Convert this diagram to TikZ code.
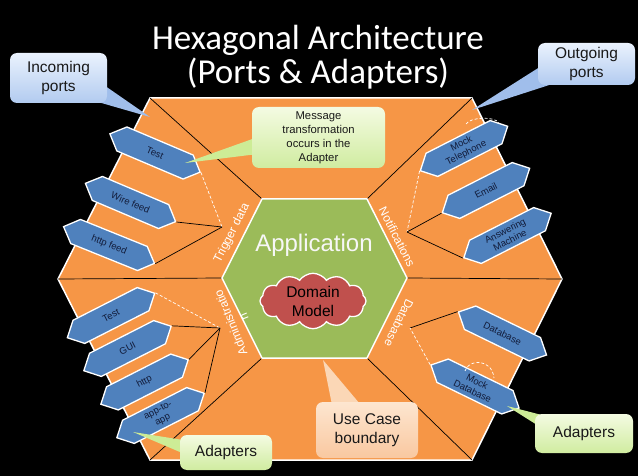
\documentclass[tikz,border=0pt]{standalone}
\usepackage{fontspec}
\setmainfont{Liberation Sans}
\newfontfamily\titlefont{Carlito}
\usetikzlibrary{shapes.geometric,shapes.symbols,calc}
\pgfdeclarelayer{callouts}
\pgfsetlayers{main,callouts}
\definecolor{hexorange}{RGB}{246,150,70}
\definecolor{appgreen}{RGB}{155,187,89}
\definecolor{portblue}{RGB}{79,129,189}
\definecolor{cloudred}{RGB}{192,80,77}
\definecolor{adtext}{RGB}{18,28,58}
\definecolor{calltext}{RGB}{25,25,25}
\definecolor{bluetop}{RGB}{234,242,253}
\definecolor{bluebot}{RGB}{178,203,240}
\definecolor{bluemid}{RGB}{160,190,235}
\definecolor{greentop}{RGB}{244,251,226}
\definecolor{greenbot}{RGB}{208,236,160}
\definecolor{greenmid}{RGB}{205,236,150}
\definecolor{peachtop}{RGB}{253,230,208}
\definecolor{peachbot}{RGB}{249,200,160}
\definecolor{peachmid}{RGB}{251,215,182}
\begin{document}
\begin{tikzpicture}[x=1pt,y=-1pt,
  adapter/.style={signal, signal to=east and west, signal pointer angle=90,
    fill=portblue, draw=white, line width=1.3pt, minimum width=98pt,
    minimum height=26pt, inner sep=1pt, text=adtext, align=center,
    font=\fontsize{9.5}{10.5}\selectfont},
  edgelabel/.style={text=white, inner sep=0pt, align=center,
    font=\fontsize{12}{14}\selectfont},
  wire/.style={black, line width=0.7pt},
  dwire/.style={white, line width=0.7pt, dash pattern=on 3pt off 2pt},
  callbox/.style={rounded corners=7pt, inner sep=2pt, align=center,
    text=calltext, draw=none},
  bluebox/.style={callbox, top color=bluetop, bottom color=bluebot,
    font=\fontsize{15.5}{19}\selectfont},
  greenbox/.style={callbox, top color=greentop, bottom color=greenbot},
  peachbox/.style={callbox, top color=peachtop, bottom color=peachbot,
    font=\fontsize{15.5}{19}\selectfont},
  titlestyle/.style={text=white, inner sep=0pt,
    font=\titlefont\fontsize{35}{40}\selectfont}]
\useasboundingbox (0,0) rectangle (638,476);
\fill[black] (0,0) rectangle (638,476);

% title
\node[titlestyle, anchor=base] (t1) at (318,50) {Hexagonal Architecture};
\node[titlestyle, anchor=base] (t2) at (318,84) {(Ports \& Adapters)};

% hexagons
\coordinate (o1) at (150,98);
\coordinate (o2) at (472,98);
\coordinate (o3) at (562,279);
\coordinate (o4) at (472,460);
\coordinate (o5) at (150,460);
\coordinate (o6) at (58,279);
\coordinate (i1) at (262,199);
\coordinate (i2) at (367,199);
\coordinate (i3) at (407,278);
\coordinate (i4) at (367,358);
\coordinate (i5) at (262,358);
\coordinate (i6) at (222,278);
\draw[white, line width=1.5pt, fill=hexorange]
  (o1) -- (o2) -- (o3) -- (o4) -- (o5) -- (o6) -- cycle;
\foreach \k in {1,...,6} \draw[wire] (o\k) -- (i\k);
\draw[white, line width=1.5pt, fill=appgreen]
  (i1) -- (i2) -- (i3) -- (i4) -- (i5) -- (i6) -- cycle;

\node[text=white!94!gray, inner sep=0pt, font=\fontsize{24}{28}\selectfont]
  (app) at (314,245) {Application};
\node[cloud, cloud puffs=12, cloud puff arc=110, aspect=2.4, fill=cloudred,
  draw=white, line width=1.3pt, minimum width=106pt, minimum height=46pt,
  inner sep=0pt, align=center, text=black, font=\fontsize{15.5}{19}\selectfont]
  (dm) at (313,301) {Domain\\Model};

% port labels
\node[edgelabel, rotate=63] (lTrig) at (232,233) {Trigger data};
\node[edgelabel, rotate=-63] (lNotif) at (397,237) {Notifications};
\node[edgelabel, rotate=-116] (lDb) at (399,323) {Database};
\node[edgelabel, rotate=112] (lAdm) at (237,320) {Administratio\\n};

% port junctions
\coordinate (p1) at (222,227);
\coordinate (p2) at (407,232);
\coordinate (p3) at (220,328);
\coordinate (p4) at (410,328);

% adapters: trigger data
\node[adapter, rotate=-23] (tTest) at (155,153) {Test};
\node[adapter, rotate=-23] (tWire) at (130.5,202.5) {Wire feed};
\node[adapter, rotate=-22] (tHttp) at (109,245) {http feed};
\draw[dwire] (tTest.east) -- (p1);
\draw[wire] (tWire.east) -- (p1);
\draw[wire] (tHttp.east) -- (p1);

% adapters: notifications
\node[adapter, rotate=27] (nMock) at (464,148.5) {Mock\\Telephone};
\node[adapter, rotate=27] (nEmail) at (486,190.5) {Email};
\node[adapter, rotate=27] (nAns) at (507.5,235.5) {Answering\\Machine};
\draw[dwire] (nMock.west) -- (p2);
\draw[wire] (nEmail.west) -- (p2);
\draw[wire] (nAns.west) -- (p2);
\draw[dwire] (466,124) .. controls (470,117) and (495,116) .. (499,123);

% adapters: administration
\node[adapter, rotate=27] (aTest) at (111,315.5) {Test};
\node[adapter, rotate=27] (aGui) at (127.5,348.5) {GUI};
\node[adapter, rotate=27] (aHttp) at (144.5,382) {http};
\node[adapter, rotate=27] (aApp) at (160.5,415.5) {app-to-\\app};
\draw[dwire] (aTest.east) -- (p3);
\draw[wire] (aGui.east) -- (p3);
\draw[wire] (aHttp.east) -- (p3);
\draw[wire] (aApp.east) -- (p3);

% adapters: database
\node[adapter, rotate=-26] (dDb) at (502.5,333.5) {Database};
\node[adapter, rotate=-26] (dMock) at (475,386.5) {Mock\\Database};
\draw[wire] (dDb.west) -- (p4);
\draw[dwire] (dMock.west) -- (p4);
\draw[dwire] (465,371) .. controls (468,359) and (492,358) .. (494,378);

% callouts
\begin{pgfonlayer}{callouts}
\node[bluebox, minimum width=97pt, minimum height=50pt] (inc) at (58.5,78) {Incoming\\ports};
\node[bluebox, minimum width=97pt, minimum height=42pt] (outg) at (586.5,64) {Outgoing\\ports};
\node[greenbox, minimum width=133pt, minimum height=61pt,
  font=\fontsize{11.3}{14}\selectfont] (msg) at (318.5,137.5)
  {Message\\transformation\\occurs in the\\Adapter};
\node[peachbox, minimum width=102pt, minimum height=56pt] (ucb) at (367,430) {Use Case\\boundary};
\node[greenbox, minimum width=92pt, minimum height=35pt,
  font=\fontsize{15.5}{19}\selectfont] (adl) at (226,452.5) {Adapters};
\node[greenbox, minimum width=98pt, minimum height=39pt,
  font=\fontsize{15.5}{19}\selectfont] (adr) at (584,433.5) {Adapters};
\end{pgfonlayer}

\coordinate (incTip) at (150,117);
\coordinate (outTip) at (472,110);
\coordinate (msgTip) at (185,163);
\coordinate (ucbTip) at (323,360);
\coordinate (adlTip) at (133,432);
\coordinate (adrTip) at (507,406);
\fill[bluemid] ($(inc.east)+(-2,8)$) -- (incTip) -- ($(inc.south east)+(-12,-2)$) -- cycle;
\fill[bluemid] ($(outg.west)+(2,3)$) -- (outTip) -- ($(outg.south west)+(17,-2)$) -- cycle;
\fill[greenmid] ($(msg.west)+(2,1)$) -- (msgTip) -- ($(msg.west)+(2,17)$) -- cycle;
\fill[peachmid] ($(ucb.north west)+(16,2)$) -- (ucbTip) -- ($(ucb.north west)+(44,2)$) -- cycle;
\fill[greenmid] ($(adl.north west)+(2,5)$) -- (adlTip) -- ($(adl.north west)+(2,18)$) -- cycle;
\fill[greenmid] ($(adr.north west)+(10,2)$) -- (adrTip) -- ($(adr.north west)+(2,11)$) -- cycle;
\end{tikzpicture}
\end{document}
